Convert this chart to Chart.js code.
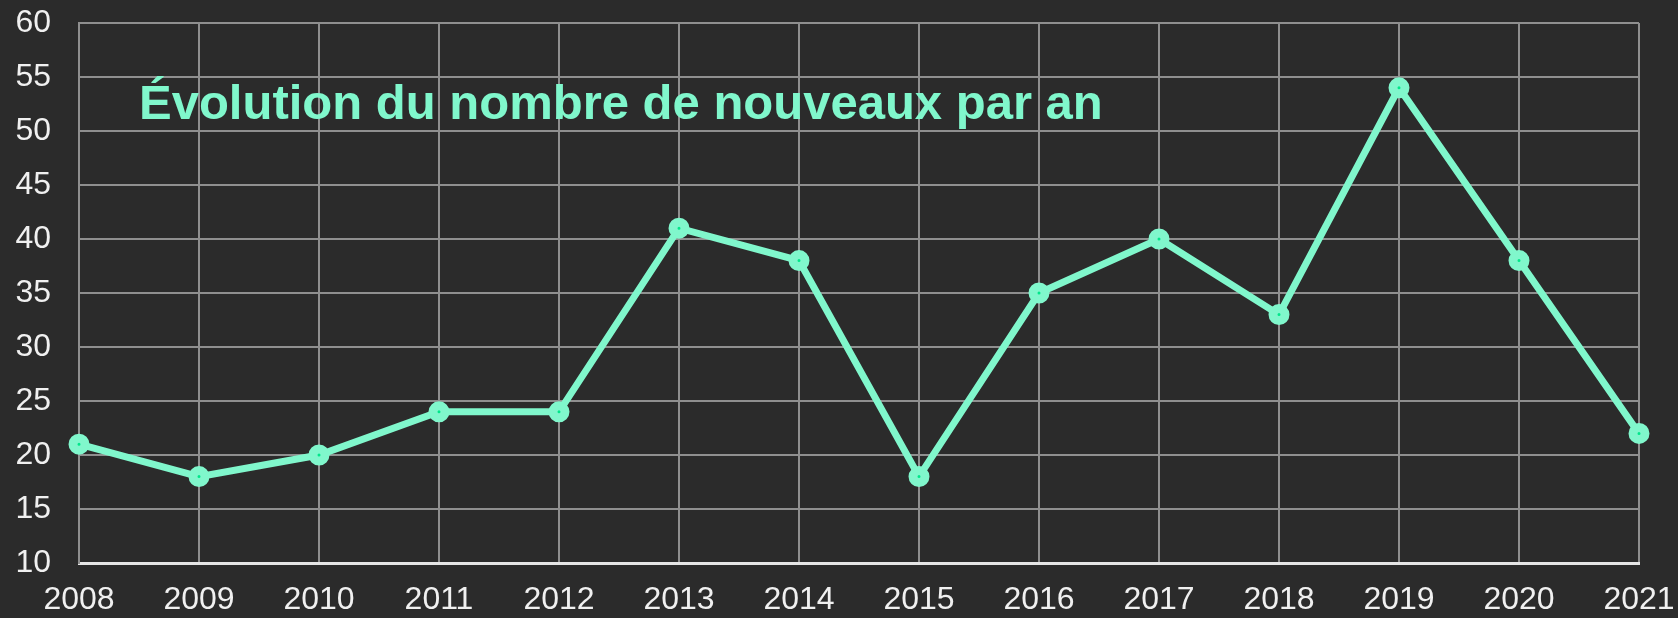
<!DOCTYPE html>
<html><head><meta charset="utf-8">
<script src="https://cdn.jsdelivr.net/npm/chart.js@4"></script>
<style>html,body{margin:0;padding:0;background:#2b2b2b;}#wrap{width:1678px;height:618px;}</style>
</head><body><div id="wrap"><canvas id="c" width="1678" height="618"></canvas></div>
<script>
const years = ['2008','2009','2010','2011','2012','2013','2014','2015','2016','2017','2018','2019','2020','2021'];
const nouveaux = [21,18,20,24,24,41,38,18,35,40,33,54,38,22];
const titleText = 'Évolution du nombre de nouveaux par an';

const innerTitle = {
  id:'innerTitle',
  afterDraw(chart){
    const ctx = chart.ctx, a = chart.chartArea;
    ctx.save();
    ctx.font = 'bold 49px "Liberation Sans", Arial, sans-serif';
    ctx.fillStyle = '#80f7cc';
    ctx.textBaseline = 'alphabetic';
    ctx.fillText(titleText, a.left + 60, 119);
    ctx.restore();
  }
};
const bg = {id:'bg', beforeDraw(chart){const c=chart.ctx;c.save();c.fillStyle='#2b2b2b';c.fillRect(0,0,chart.width,chart.height);c.restore();}};

new Chart(document.getElementById('c'), {
  type:'line',
  data:{labels:years, datasets:[{
    data:nouveaux,
    borderColor:'#80f7cc', borderWidth:7,
    pointRadius:6, pointBorderWidth:9, pointHoverRadius:6,
    pointBackgroundColor:'#00e68a', pointBorderColor:'#80f7cc',
    tension:0
  }]},
  options:{
    responsive:false, animation:false,
    layout:{padding:{top:23,right:39,left:0,bottom:0}},
    plugins:{legend:{display:false}, tooltip:{enabled:false}},
    scales:{
      x:{type:'category', offset:false,
        grid:{color:'#8f8f8f', lineWidth:2, drawTicks:false},
        border:{color:'#e6e6e6', width:3},
        ticks:{color:'#f0f0f0', padding:18, maxRotation:0, autoSkip:false, font:{family:'"Liberation Sans", Arial, sans-serif', size:32}},
        afterFit(s){s.height=55; s.paddingLeft=0; s.paddingRight=0;}
      },
      y:{min:10, max:60,
        grid:{color:'#8f8f8f', lineWidth:2, drawTicks:false},
        border:{color:'#8f8f8f', width:2},
        ticks:{stepSize:5, color:'#f0f0f0', padding:28, font:{family:'"Liberation Sans", Arial, sans-serif', size:32}},
        afterFit(s){s.width=79; s.paddingTop=0; s.paddingBottom=0;}
      }
    }
  },
  plugins:[bg, innerTitle]
});
</script></body></html>
